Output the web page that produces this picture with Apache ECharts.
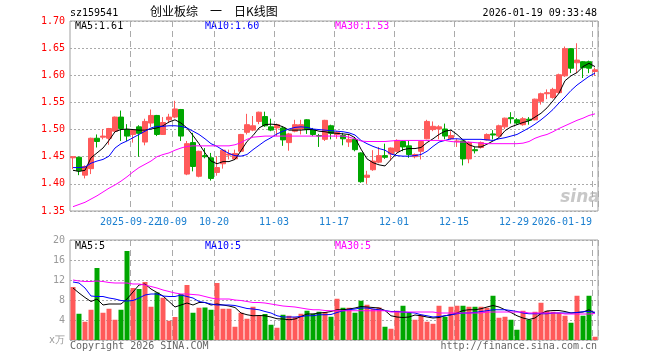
<!DOCTYPE html>
<html><head><meta charset="utf-8">
<script src="https://cdn.jsdelivr.net/npm/echarts@6/dist/echarts.min.js"></script>
<style>html,body{margin:0;padding:0;background:#fff}#c{width:660px;height:360px}</style>
</head><body><div id="c"></div>
<script>
const dates = ['2025-09-08','2025-09-09','2025-09-10','2025-09-11','2025-09-12','2025-09-15','2025-09-16','2025-09-17','2025-09-18','2025-09-19',
'2025-09-22','2025-09-23','2025-09-24','2025-09-25','2025-09-26','2025-09-29','2025-09-30','2025-10-09','2025-10-10','2025-10-13',
'2025-10-14','2025-10-15','2025-10-16','2025-10-17','2025-10-20','2025-10-21','2025-10-22','2025-10-23','2025-10-24','2025-10-27',
'2025-10-28','2025-10-29','2025-10-30','2025-10-31','2025-11-03','2025-11-04','2025-11-05','2025-11-06','2025-11-07','2025-11-10',
'2025-11-11','2025-11-12','2025-11-13','2025-11-14','2025-11-17','2025-11-18','2025-11-19','2025-11-20','2025-11-21','2025-11-24',
'2025-11-25','2025-11-26','2025-11-27','2025-11-28','2025-12-01','2025-12-02','2025-12-03','2025-12-04','2025-12-05','2025-12-08',
'2025-12-09','2025-12-10','2025-12-11','2025-12-12','2025-12-15','2025-12-16','2025-12-17','2025-12-18','2025-12-19','2025-12-22',
'2025-12-23','2025-12-24','2025-12-25','2025-12-26','2025-12-29','2025-12-30','2025-12-31','2026-01-05','2026-01-06','2026-01-07',
'2026-01-08','2026-01-09','2026-01-12','2026-01-13','2026-01-14','2026-01-15','2026-01-16','2026-01-19'];

const opens = [1.448,1.449,1.416,1.428,1.484,1.486,1.484,1.497,1.523,1.500,
1.491,1.505,1.477,1.512,1.526,1.491,1.518,1.523,1.537,1.418,
1.476,1.414,1.452,1.448,1.421,1.437,1.453,1.446,1.460,1.495,
1.499,1.515,1.524,1.505,1.503,1.503,1.476,1.497,1.501,1.518,
1.500,1.489,1.482,1.507,1.491,1.489,1.477,1.482,1.457,1.412,
1.426,1.440,1.452,1.455,1.460,1.478,1.470,1.450,1.460,1.483,
1.500,1.501,1.501,1.483,1.478,1.479,1.446,1.463,1.467,1.481,
1.492,1.488,1.505,1.522,1.518,1.509,1.519,1.518,1.552,1.566,
1.559,1.568,1.599,1.649,1.623,1.625,1.625,1.607];
const closes = [1.450,1.424,1.432,1.484,1.478,1.488,1.502,1.523,1.502,1.488,
1.499,1.493,1.515,1.526,1.491,1.513,1.523,1.538,1.488,1.474,
1.432,1.460,1.450,1.410,1.430,1.462,1.455,1.456,1.491,1.509,
1.507,1.532,1.507,1.499,1.509,1.481,1.492,1.509,1.509,1.500,
1.491,1.488,1.517,1.493,1.495,1.483,1.482,1.463,1.404,1.416,
1.442,1.452,1.449,1.466,1.480,1.468,1.454,1.454,1.478,1.515,
1.506,1.505,1.488,1.489,1.479,1.446,1.476,1.461,1.476,1.491,
1.490,1.507,1.521,1.520,1.512,1.520,1.517,1.556,1.566,1.568,
1.574,1.601,1.649,1.613,1.628,1.614,1.613,1.610];
const lows = [1.427,1.416,1.410,1.418,1.467,1.482,1.472,1.496,1.479,1.479,
1.476,1.450,1.471,1.505,1.488,1.490,1.512,1.521,1.479,1.416,
1.423,1.412,1.447,1.406,1.415,1.428,1.445,1.444,1.459,1.491,
1.497,1.510,1.505,1.497,1.488,1.470,1.461,1.495,1.491,1.492,
1.488,1.468,1.479,1.482,1.483,1.471,1.468,1.460,1.402,1.400,
1.424,1.438,1.446,1.443,1.458,1.460,1.448,1.447,1.445,1.482,
1.497,1.482,1.482,1.481,1.468,1.434,1.438,1.456,1.465,1.480,
1.482,1.486,1.501,1.511,1.509,1.507,1.509,1.517,1.546,1.556,
1.557,1.566,1.597,1.604,1.604,1.595,1.604,1.599];
const highs = [1.451,1.450,1.434,1.485,1.491,1.501,1.503,1.524,1.535,1.510,
1.500,1.508,1.520,1.537,1.527,1.523,1.529,1.553,1.538,1.479,
1.494,1.461,1.466,1.457,1.451,1.464,1.463,1.463,1.492,1.529,
1.525,1.533,1.533,1.520,1.511,1.506,1.494,1.518,1.518,1.519,
1.503,1.492,1.518,1.509,1.497,1.494,1.491,1.486,1.458,1.424,
1.462,1.468,1.474,1.467,1.482,1.480,1.480,1.456,1.479,1.518,
1.515,1.508,1.511,1.497,1.483,1.480,1.478,1.468,1.478,1.493,
1.499,1.509,1.522,1.532,1.521,1.523,1.523,1.557,1.568,1.574,
1.577,1.603,1.653,1.650,1.659,1.626,1.627,1.614];

const ma5 = [1.425,1.423,1.425,1.448,1.457,1.466,1.480,1.496,1.500,1.501,
1.500,1.499,1.499,1.501,1.503,1.507,1.514,1.518,1.512,1.503,
1.489,1.474,1.457,1.442,1.437,1.441,1.441,1.445,1.461,1.478,
1.489,1.503,1.509,1.510,1.509,1.505,1.499,1.499,1.499,1.500,
1.500,1.497,1.496,1.494,1.493,1.492,1.491,1.485,1.464,1.446,
1.439,1.435,1.433,1.445,1.457,1.463,1.465,1.465,1.467,1.476,
1.483,1.491,1.497,1.499,1.491,1.481,1.472,1.468,1.468,1.473,
1.479,1.485,1.498,1.505,1.509,1.513,1.516,1.523,1.530,1.540,
1.553,1.567,1.590,1.599,1.605,1.616,1.622,1.616];
const ma10 = [1.430,1.430,1.431,1.438,1.442,1.445,1.451,1.466,1.474,1.479,
1.485,1.491,1.497,1.503,1.506,1.506,1.507,1.507,1.506,1.503,
1.497,1.491,1.483,1.474,1.469,1.462,1.456,1.452,1.451,1.454,
1.463,1.471,1.479,1.485,1.492,1.497,1.501,1.504,1.505,1.504,
1.501,1.500,1.499,1.498,1.497,1.496,1.494,1.490,1.480,1.474,
1.469,1.465,1.462,1.455,1.452,1.451,1.451,1.452,1.454,1.460,
1.469,1.477,1.480,1.483,1.483,1.482,1.482,1.482,1.482,1.481,
1.480,1.483,1.485,1.488,1.491,1.497,1.503,1.510,1.518,1.527,
1.537,1.549,1.560,1.572,1.582,1.590,1.598,1.604];
const ma30 = [1.358,1.362,1.366,1.372,1.378,1.385,1.392,1.398,1.405,1.413,
1.422,1.430,1.436,1.442,1.450,1.454,1.457,1.462,1.466,1.469,
1.470,1.470,1.470,1.470,1.470,1.470,1.470,1.472,1.476,1.482,
1.486,1.487,1.488,1.488,1.488,1.488,1.488,1.488,1.488,1.488,
1.488,1.488,1.488,1.488,1.488,1.488,1.486,1.483,1.479,1.478,
1.478,1.478,1.478,1.479,1.480,1.480,1.480,1.480,1.480,1.480,
1.480,1.480,1.480,1.478,1.477,1.477,1.477,1.476,1.475,1.474,
1.474,1.474,1.474,1.474,1.474,1.475,1.478,1.484,1.488,1.491,
1.496,1.502,1.507,1.512,1.517,1.521,1.526,1.529];

const volumes = [10.6,5.25,3.65,6.05,14.4,5.45,6.25,4.05,6.05,17.8,
10.4,10.2,11.6,6.65,9.5,8.45,3.85,4.6,9.2,11.0,
5.45,6.45,6.5,6.05,11.4,6.25,6.25,2.65,5.45,4.25,
6.65,4.85,5.2,3.05,2.45,5.05,4.85,4.6,5.25,5.85,
5.25,5.65,5.6,4.65,8.25,6.45,6.45,5.45,7.85,7.05,
6.25,6.5,2.65,2.25,5.85,6.85,5.4,4.05,5.05,3.65,
3.25,6.85,4.65,6.65,6.85,6.85,6.65,6.65,6.65,6.45,
8.85,4.45,4.65,4.05,2.05,5.85,4.05,5.65,7.45,5.85,
5.65,5.45,4.85,3.45,8.85,4.85,8.85,0.65];
const vma5 = [10.4,9.4,8.5,7.7,8.2,7.0,7.2,7.2,7.2,8.2,
9.6,11.0,11.2,10.2,9.5,8.8,7.7,6.6,7.0,7.4,
7.0,7.5,7.5,7.0,7.2,7.0,6.8,6.5,5.4,5.05,
4.85,4.9,4.85,4.6,4.25,4.2,4.05,4.2,4.7,5.2,
5.2,5.4,5.5,5.7,6.05,6.05,6.2,6.4,6.7,6.6,
6.5,6.4,5.9,4.85,4.6,4.5,4.6,5.0,4.85,4.6,
4.4,4.5,4.85,5.05,5.4,5.9,6.05,6.05,6.25,6.6,
6.9,6.6,6.05,5.5,4.85,4.4,4.1,4.4,5.3,5.8,
5.9,5.9,5.7,5.4,5.5,5.6,6.05,5.35];
const vma10 = [11.6,11.4,10.4,8.8,8.7,8.7,8.4,8.2,7.9,7.8,
7.9,8.4,9.0,9.2,9.2,8.8,8.7,8.7,9.0,8.7,
8.4,7.7,7.5,7.2,7.0,7.0,7.0,6.9,6.6,6.3,
6.2,6.05,5.7,5.4,4.85,4.6,4.6,4.6,4.7,4.85,
4.85,5.05,5.05,5.1,5.5,5.85,6.05,6.2,6.4,6.4,
6.2,6.05,5.9,5.7,5.7,5.6,5.5,5.4,5.05,4.85,
4.6,4.7,4.85,5.05,5.25,5.4,5.4,5.5,5.7,5.85,
6.05,6.05,6.05,5.9,5.7,5.4,5.25,5.25,5.25,5.25,
5.4,5.4,5.4,5.4,5.5,5.65,5.7,5.55];
const vma30 = [12.0,11.8,11.7,11.7,11.8,11.7,11.5,11.4,11.4,11.4,
11.2,11.2,11.0,10.7,10.4,10.0,9.7,9.4,9.2,9.2,
9.1,9.0,8.7,8.4,8.2,8.2,8.2,8.0,7.9,7.7,
7.5,7.5,7.4,7.2,7.0,6.8,6.7,6.6,6.4,6.2,
6.05,6.05,5.9,5.85,5.85,5.85,5.85,5.85,5.85,5.85,
5.85,5.85,5.85,5.6,5.6,5.6,5.6,5.6,5.6,5.6,
5.6,5.4,5.4,5.4,5.4,5.4,5.4,5.4,5.4,5.6,
5.6,5.6,5.6,5.6,5.6,5.6,5.4,5.4,5.4,5.4,
5.4,5.4,5.2,5.2,5.2,5.2,5.2,5.3];

const tickIndex = [10,17,24,34,44,54,64,74,87];
const tickLabels = ['2025-09-22','10-09','10-20','11-03','11-17','12-01','12-15','12-29','2026-01-19'];
const priceLabels = {ma5:'MA5:1.61', ma10:'MA10:1.60', ma30:'MA30:1.53'};
const volLabels = {ma5:'MA5:5', ma10:'MA10:5', ma30:'MA30:5'};

const UP = '#ff5a5a', DOWN = '#00a600';
const MONO = '"DejaVu Sans Mono", monospace';
const isTick = (i) => tickIndex.indexOf(i) >= 0;
const last = dates.length - 1;
// labels split over two overlaid axes so adjacent labels are not auto-hidden
const labelSetA = tickIndex.filter((i, n) => n !== 0);
const labelSetB = [tickIndex[0]];

const chart = echarts.init(document.getElementById('c'), null, {renderer:'canvas'});

function xAxisFor(grid, labelSet, withSplit){
  return {
    type:'category', gridIndex:grid, data:dates, boundaryGap:true, position:'bottom',
    axisLine:{show:false}, axisTick:{show:false},
    axisLabel:{
      show:labelSet.length > 0, interval:(i)=>labelSet.indexOf(i) >= 0, margin:6, alignMaxLabel:'right', hideOverlap:false,
      color:'#1a7fd0', fontFamily:MONO, fontSize:10,
      formatter:(v,i)=>{ const t = tickLabels[tickIndex.indexOf(i)]; return i===last ? '{b|'+t+'}' : '{a|'+t+'}'; },
      rich:{ a:{padding:[0,6,0,0], color:'#1a7fd0', fontFamily:MONO, fontSize:10},
             b:{padding:[0,3,0,0], color:'#1a7fd0', fontFamily:MONO, fontSize:10} }
    },
    splitLine:{show:withSplit, interval:(i)=>isTick(i), lineStyle:{color:'#aaaaaa', width:1, type:[6,4]}}
  };
}

const txt = (text, x, y, color, align, font) => ({
  type:'text', x:x, y:y, silent:true,
  style:{text:text, fill:color, font:font || ('10px ' + MONO), textAlign:align||'left', textVerticalAlign:'middle', align:align||'left', verticalAlign:'middle'}
});

const option = {
  animation:false,
  backgroundColor:'#fff',
  grid:[
    {left:70, top:21, width:528, height:190, show:true, borderColor:'#a0a0a0', borderWidth:1},
    {left:70, top:240, width:528, height:100, show:true, borderColor:'#a0a0a0', borderWidth:1}
  ],
  xAxis:[xAxisFor(0, labelSetA, true), xAxisFor(1, [], true), xAxisFor(0, labelSetB, false)],
  yAxis:[
    {type:'value', gridIndex:0, min:1.35, max:1.70, interval:0.05, scale:true,
     axisLine:{show:false}, axisTick:{show:false},
     axisLabel:{color:'#ff0000', fontFamily:MONO, fontSize:10, margin:5, formatter:(v)=>v.toFixed(2)},
     splitLine:{lineStyle:{color:'#aaaaaa', width:1, type:[2,2]}}},
    {type:'value', gridIndex:1, min:0, max:20, interval:4,
     axisLine:{show:false}, axisTick:{show:false},
     axisLabel:{color:'#999999', fontFamily:MONO, fontSize:10, margin:5, formatter:(v)=> v===0 ? 'x万' : String(v)},
     splitLine:{lineStyle:{color:'#aaaaaa', width:1, type:[2,2]}}}
  ],
  series:[
    {type:'candlestick', xAxisIndex:0, yAxisIndex:0, barWidth:5, silent:true,
     data:dates.map((d,i)=>[opens[i], closes[i], lows[i], highs[i]]),
     itemStyle:{color:UP, color0:DOWN, borderColor:UP, borderColor0:DOWN, borderWidth:1}},
    {type:'line', xAxisIndex:0, yAxisIndex:0, data:ma5, symbol:'none', silent:true, lineStyle:{color:'#000000', width:1}},
    {type:'line', xAxisIndex:0, yAxisIndex:0, data:ma10, symbol:'none', silent:true, lineStyle:{color:'#0000ff', width:1}},
    {type:'line', xAxisIndex:0, yAxisIndex:0, data:ma30, symbol:'none', silent:true, lineStyle:{color:'#ff00ff', width:1}},
    {type:'bar', xAxisIndex:1, yAxisIndex:1, barWidth:5, silent:true,
     data:volumes.map((v,i)=>({value:v, itemStyle:{color: closes[i] >= opens[i] ? UP : DOWN}}))},
    {type:'line', xAxisIndex:1, yAxisIndex:1, data:vma5, symbol:'none', silent:true, lineStyle:{color:'#000000', width:1}},
    {type:'line', xAxisIndex:1, yAxisIndex:1, data:vma10, symbol:'none', silent:true, lineStyle:{color:'#0000ff', width:1}},
    {type:'line', xAxisIndex:1, yAxisIndex:1, data:vma30, symbol:'none', silent:true, lineStyle:{color:'#ff00ff', width:1}}
  ],
  graphic:[
    txt('sz159541', 70, 13, '#000'),
    txt('创业板综　一　日K线图', 150, 11, '#000', 'left', '12px "Noto Sans CJK SC"'),
    txt('2026-01-19 09:33:48', 597, 13, '#000', 'right'),
    txt(priceLabels.ma5, 75, 26, '#000'),
    txt(priceLabels.ma10, 205, 26, '#0000ff'),
    txt(priceLabels.ma30, 335, 26, '#ff00ff'),
    txt(volLabels.ma5, 75, 246, '#000'),
    txt(volLabels.ma10, 205, 246, '#0000ff'),
    txt(volLabels.ma30, 335, 246, '#ff00ff'),
    txt('Copyright 2026 SINA.COM', 70, 346, '#666'),
    txt('http://finance.sina.com.cn', 597, 346, '#666', 'right'),
    txt('sina', 580, 198, '#c8c8c8', 'center', 'italic bold 17px "DejaVu Sans"')
  ]
};
chart.setOption(option);
</script>
</body></html>
